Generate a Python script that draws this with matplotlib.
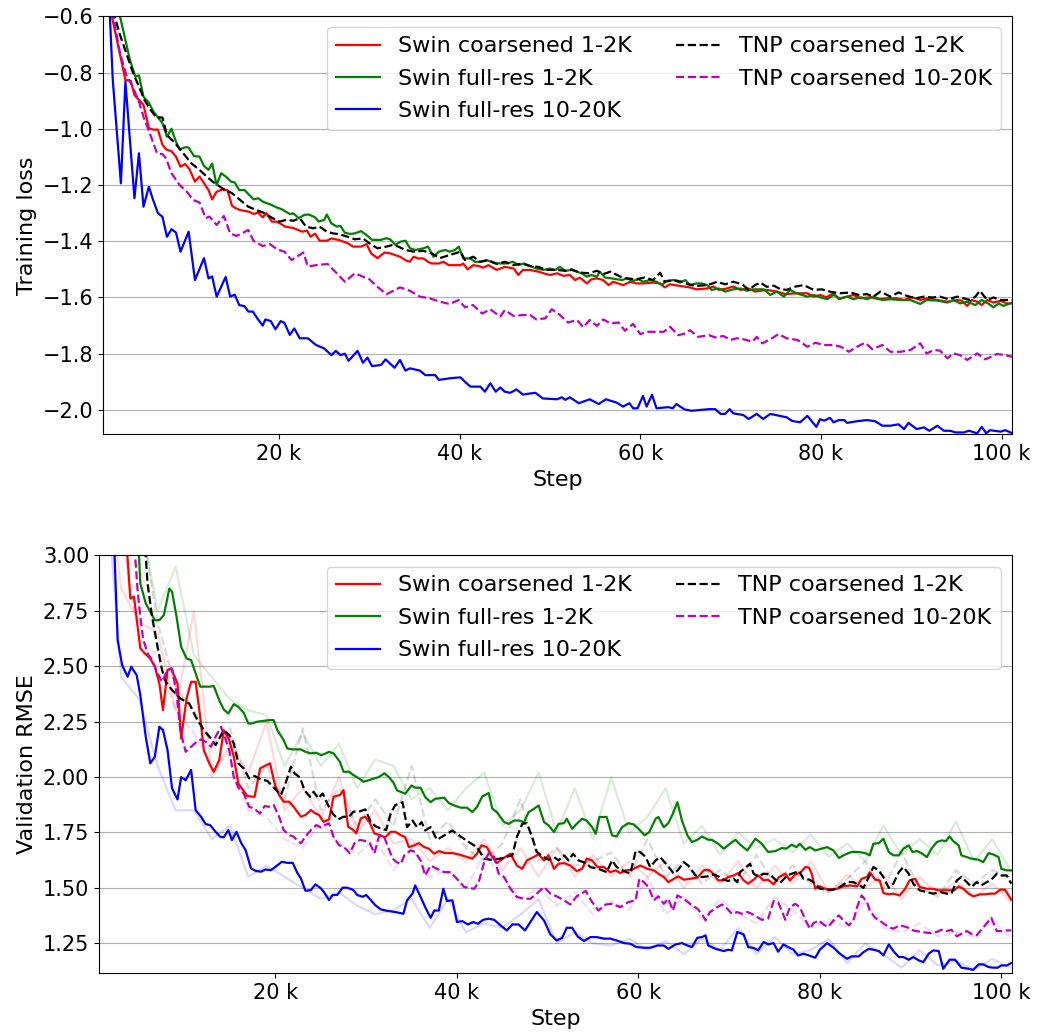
import numpy as np
import matplotlib
matplotlib.use("Agg")
from matplotlib import pyplot as plt
from matplotlib.ticker import EngFormatter

# (step in thousands, value)

# ---- training loss ----
train_swin_coarse_small = [(1.0,-0.45),(1.5,-0.60),(3.0,-0.826),(3.6,-0.830),(4.0,-0.880),(4.5,-0.897),(5.0,-0.915),(5.6,-0.998),(6.1,-1.003),(6.6,-1.003),(7.1,-1.057),(7.5,-1.073),(8.1,-1.080),(8.6,-1.099),(9.1,-1.135),(9.6,-1.125),(10.1,-1.144),(10.7,-1.188),(11.2,-1.170),(11.6,-1.188),(12.2,-1.218),(12.6,-1.251),(13.1,-1.224),(13.7,-1.216),(14.3,-1.218),(14.8,-1.274),(15.2,-1.282),(15.7,-1.289),(16.7,-1.295),(17.2,-1.303),(17.7,-1.298),(18.2,-1.315),(18.6,-1.300),(19.2,-1.330),(19.7,-1.330),(20.2,-1.338),(20.7,-1.348),(21.6,-1.353),(22.6,-1.366),(23.1,-1.362),(23.5,-1.384),(24.0,-1.373),(24.5,-1.398),(25.3,-1.398),(25.8,-1.390),(26.7,-1.396),(27.6,-1.407),(28.2,-1.419),(29.1,-1.419),(29.7,-1.410),(30.2,-1.443),(30.9,-1.460),(31.7,-1.440),(32.3,-1.443),(33.4,-1.455),(34.0,-1.467),(34.5,-1.473),(34.9,-1.455),(35.4,-1.461),(36.0,-1.461),(36.5,-1.473),(36.9,-1.479),(37.7,-1.479),(38.2,-1.473),(38.8,-1.485),(40.1,-1.485),(40.4,-1.479),(40.9,-1.500),(41.5,-1.485),(42.1,-1.488),(42.6,-1.494),(43.2,-1.485),(44.1,-1.502),(45.0,-1.491),(46.0,-1.497),(46.5,-1.520),(47.0,-1.502),(47.8,-1.502),(48.7,-1.508),(49.3,-1.514),(50.0,-1.520),(50.8,-1.514),(51.5,-1.523),(52.2,-1.520),(52.8,-1.538),(53.3,-1.529),(54.1,-1.550),(54.6,-1.535),(55.2,-1.532),(55.9,-1.538),(56.5,-1.556),(57.0,-1.544),(58.1,-1.556),(58.9,-1.544),(59.6,-1.550),(60.3,-1.550),(61.5,-1.547),(62.2,-1.550),(62.7,-1.564),(63.3,-1.553),(64.4,-1.559),(65.5,-1.564),(66.2,-1.571),(67.4,-1.568),(68.1,-1.561),(68.7,-1.573),(69.6,-1.568),(70.3,-1.561),(71.1,-1.573),(72.0,-1.568),(72.7,-1.579),(74.0,-1.573),(75.1,-1.579),(76.1,-1.588),(77.3,-1.585),(78.5,-1.585),(79.2,-1.597),(79.9,-1.591),(80.6,-1.599),(81.4,-1.585),(82.0,-1.606),(82.9,-1.597),(83.6,-1.591),(84.4,-1.603),(85.5,-1.599),(86.4,-1.606),(87.3,-1.603),(88.4,-1.603),(89.2,-1.609),(90.1,-1.599),(91.0,-1.609),(91.7,-1.603),(92.9,-1.609),(94.0,-1.615),(95.1,-1.609),(95.6,-1.611),(96.2,-1.630),(96.7,-1.609),(97.3,-1.615),(97.8,-1.627),(98.4,-1.609),(99.1,-1.618),(99.9,-1.612),(100.6,-1.621),(101.2,-1.621)]

train_swin_full_small = [(1.5,-0.45),(2.4,-0.60),(3.5,-0.755),(4.1,-0.814),(4.5,-0.810),(5.0,-0.886),(5.6,-0.907),(6.1,-0.939),(7.1,-0.980),(7.6,-1.028),(8.1,-1.000),(8.6,-1.046),(9.0,-1.073),(9.7,-1.065),(10.0,-1.067),(10.6,-1.097),(11.2,-1.099),(11.7,-1.132),(12.2,-1.146),(12.6,-1.124),(13.1,-1.200),(13.6,-1.158),(14.2,-1.172),(14.7,-1.188),(15.1,-1.191),(15.6,-1.218),(16.2,-1.218),(16.7,-1.235),(17.2,-1.251),(17.7,-1.247),(18.2,-1.259),(19.2,-1.271),(19.7,-1.279),(20.3,-1.286),(21.2,-1.303),(21.6,-1.301),(22.2,-1.318),(22.8,-1.306),(23.3,-1.305),(24.0,-1.315),(24.4,-1.330),(25.0,-1.324),(25.3,-1.305),(25.8,-1.336),(26.4,-1.348),(26.8,-1.345),(27.3,-1.370),(27.9,-1.374),(28.4,-1.372),(29.1,-1.364),(29.7,-1.378),(30.3,-1.395),(31.3,-1.395),(31.9,-1.389),(32.3,-1.393),(32.9,-1.413),(33.4,-1.402),(34.0,-1.398),(34.5,-1.425),(35.1,-1.431),(36.0,-1.425),(36.5,-1.419),(37.1,-1.455),(37.7,-1.437),(38.4,-1.431),(38.9,-1.437),(39.5,-1.431),(39.9,-1.419),(40.4,-1.461),(41.2,-1.461),(41.7,-1.473),(42.3,-1.473),(43.0,-1.467),(43.7,-1.476),(44.5,-1.479),(45.2,-1.479),(45.9,-1.473),(46.5,-1.485),(47.1,-1.479),(47.8,-1.488),(48.5,-1.497),(49.3,-1.502),(50.0,-1.497),(50.6,-1.502),(51.1,-1.491),(51.7,-1.505),(52.4,-1.502),(53.0,-1.508),(53.5,-1.514),(54.1,-1.526),(54.6,-1.520),(55.2,-1.526),(55.5,-1.508),(56.1,-1.529),(56.8,-1.532),(57.4,-1.535),(58.0,-1.538),(58.5,-1.532),(59.2,-1.541),(59.8,-1.535),(60.3,-1.544),(61.1,-1.538),(61.8,-1.544),(62.4,-1.556),(62.9,-1.541),(63.7,-1.538),(64.4,-1.547),(65.0,-1.538),(65.5,-1.556),(66.2,-1.550),(66.8,-1.550),(67.4,-1.556),(67.9,-1.573),(68.7,-1.568),(69.4,-1.579),(70.3,-1.571),(71.1,-1.568),(71.8,-1.576),(72.6,-1.571),(73.7,-1.571),(74.4,-1.591),(75.1,-1.579),(75.9,-1.597),(76.6,-1.573),(77.3,-1.585),(78.5,-1.597),(79.2,-1.591),(79.9,-1.599),(80.7,-1.606),(81.4,-1.591),(82.1,-1.603),(82.9,-1.597),(83.6,-1.606),(84.4,-1.599),(85.1,-1.606),(85.8,-1.597),(86.8,-1.609),(87.7,-1.606),(88.8,-1.609),(89.9,-1.609),(91.0,-1.623),(91.7,-1.609),(92.9,-1.611),(94.0,-1.618),(94.7,-1.609),(95.4,-1.621),(96.2,-1.615),(97.1,-1.627),(97.8,-1.609),(98.6,-1.623),(99.1,-1.635),(99.7,-1.621),(100.2,-1.630),(101.2,-1.618)]

train_swin_full_large = [(1.0,-0.40),(1.6,-0.826),(2.5,-1.194),(3.0,-0.832),(4.0,-1.247),(4.5,-1.087),(5.0,-1.277),(5.6,-1.206),(6.0,-1.247),(6.6,-1.300),(7.1,-1.313),(7.6,-1.384),(8.1,-1.357),(8.6,-1.369),(9.1,-1.437),(10.0,-1.366),(10.7,-1.538),(11.7,-1.460),(12.2,-1.532),(12.6,-1.525),(13.1,-1.597),(14.1,-1.527),(14.6,-1.597),(15.1,-1.590),(15.6,-1.627),(16.2,-1.631),(16.6,-1.650),(17.1,-1.650),(17.6,-1.674),(18.2,-1.700),(18.5,-1.678),(19.1,-1.684),(19.6,-1.713),(20.2,-1.684),(20.6,-1.690),(21.2,-1.733),(21.7,-1.710),(22.3,-1.745),(23.2,-1.745),(24.1,-1.769),(25.0,-1.781),(25.8,-1.805),(26.3,-1.790),(26.8,-1.805),(27.3,-1.800),(27.7,-1.825),(28.7,-1.790),(29.3,-1.832),(29.8,-1.814),(30.3,-1.844),(31.3,-1.840),(31.8,-1.820),(32.8,-1.850),(33.4,-1.822),(34.0,-1.860),(34.5,-1.852),(35.6,-1.860),(36.2,-1.876),(37.3,-1.876),(37.7,-1.893),(39.0,-1.887),(40.1,-1.884),(40.6,-1.900),(41.2,-1.917),(42.3,-1.917),(42.8,-1.935),(43.4,-1.905),(44.0,-1.935),(44.5,-1.920),(45.0,-1.935),(45.6,-1.939),(46.3,-1.927),(47.0,-1.945),(48.4,-1.939),(49.2,-1.959),(50.8,-1.962),(51.3,-1.955),(51.7,-1.964),(52.2,-1.955),(53.2,-1.976),(54.4,-1.962),(55.4,-1.979),(56.2,-1.962),(57.4,-1.974),(58.1,-1.988),(58.8,-1.976),(59.2,-1.994),(59.7,-1.994),(60.3,-1.950),(60.7,-1.988),(61.3,-1.946),(61.8,-1.994),(63.1,-1.990),(63.6,-1.994),(64.0,-1.979),(64.9,-1.998),(65.7,-2.003),(66.6,-2.000),(67.7,-1.997),(68.3,-1.997),(68.9,-2.014),(69.4,-2.014),(69.9,-1.997),(70.3,-2.012),(71.4,-2.018),(72.0,-2.032),(72.9,-2.014),(73.6,-2.032),(74.4,-2.014),(76.2,-2.026),(76.8,-2.039),(77.7,-2.044),(78.5,-2.021),(79.0,-2.041),(79.5,-2.060),(79.9,-2.033),(80.4,-2.038),(81.0,-2.028),(81.4,-2.044),(82.0,-2.036),(82.6,-2.036),(82.9,-2.046),(84.0,-2.040),(85.1,-2.036),(86.0,-2.040),(86.8,-2.056),(87.7,-2.056),(88.6,-2.051),(89.2,-2.068),(89.7,-2.046),(90.6,-2.068),(91.4,-2.062),(92.0,-2.074),(92.9,-2.056),(93.6,-2.074),(94.3,-2.074),(94.9,-2.080),(95.8,-2.080),(96.4,-2.074),(97.3,-2.083),(97.8,-2.060),(98.3,-2.083),(98.7,-2.072),(99.9,-2.077),(100.4,-2.072),(101.2,-2.083)]

train_tnp_coarse_small = [(1.0,-0.50),(1.8,-0.60),(2.4,-0.666),(3.1,-0.731),(3.8,-0.797),(4.5,-0.850),(5.1,-0.897),(5.8,-0.933),(6.4,-0.959),(7.1,-0.960),(7.6,-1.022),(8.5,-1.051),(9.4,-1.087),(10.3,-1.123),(11.2,-1.146),(12.0,-1.170),(12.9,-1.194),(13.9,-1.215),(14.8,-1.229),(15.7,-1.253),(16.6,-1.277),(17.5,-1.289),(18.4,-1.300),(19.3,-1.318),(20.1,-1.330),(20.8,-1.324),(21.6,-1.327),(22.3,-1.318),(23.0,-1.348),(23.8,-1.354),(24.5,-1.348),(25.3,-1.366),(26.0,-1.372),(26.7,-1.375),(27.6,-1.384),(28.4,-1.393),(29.3,-1.390),(30.0,-1.407),(30.9,-1.425),(31.9,-1.419),(32.6,-1.413),(33.2,-1.419),(34.0,-1.431),(34.9,-1.437),(36.0,-1.434),(36.9,-1.443),(37.8,-1.460),(38.9,-1.449),(40.1,-1.437),(40.6,-1.467),(41.5,-1.455),(42.3,-1.473),(43.2,-1.467),(44.1,-1.481),(45.0,-1.473),(46.0,-1.485),(46.9,-1.479),(47.8,-1.488),(48.7,-1.491),(49.6,-1.502),(50.8,-1.502),(51.7,-1.505),(52.4,-1.500),(53.2,-1.511),(54.3,-1.514),(55.2,-1.505),(55.9,-1.517),(56.7,-1.508),(57.8,-1.526),(58.5,-1.532),(59.6,-1.535),(60.5,-1.529),(61.4,-1.538),(62.2,-1.512),(62.7,-1.544),(63.7,-1.538),(64.6,-1.544),(65.3,-1.553),(66.2,-1.559),(67.4,-1.556),(68.0,-1.550),(68.5,-1.544),(69.4,-1.553),(70.3,-1.544),(71.3,-1.553),(72.0,-1.573),(72.7,-1.556),(73.3,-1.547),(74.0,-1.562),(74.8,-1.558),(75.5,-1.570),(76.2,-1.573),(77.2,-1.561),(78.1,-1.556),(79.2,-1.573),(80.1,-1.571),(81.0,-1.579),(82.1,-1.585),(83.3,-1.582),(84.2,-1.591),(85.1,-1.588),(85.8,-1.597),(86.6,-1.579),(87.7,-1.597),(88.6,-1.582),(89.5,-1.594),(90.5,-1.603),(91.4,-1.597),(92.3,-1.600),(93.2,-1.597),(94.1,-1.606),(95.1,-1.597),(95.8,-1.603),(96.5,-1.609),(97.1,-1.597),(97.6,-1.576),(98.4,-1.609),(99.1,-1.600),(99.9,-1.609),(101.2,-1.609)]

train_tnp_coarse_large = [(1.0,-0.45),(1.65,-0.60),(2.4,-0.731),(3.1,-0.808),(3.8,-0.850),(4.5,-0.903),(5.0,-0.957),(5.7,-1.016),(6.5,-1.087),(7.1,-1.090),(7.5,-1.105),(8.1,-1.158),(9.0,-1.200),(9.8,-1.224),(10.5,-1.253),(11.2,-1.262),(11.9,-1.318),(12.3,-1.312),(13.1,-1.342),(13.9,-1.310),(14.6,-1.372),(15.3,-1.381),(15.9,-1.372),(16.6,-1.360),(17.2,-1.399),(18.2,-1.417),(19.0,-1.410),(19.8,-1.429),(20.6,-1.437),(21.4,-1.467),(22.7,-1.440),(23.2,-1.490),(24.3,-1.484),(25.4,-1.481),(26.4,-1.514),(27.3,-1.544),(28.4,-1.514),(29.3,-1.526),(30.0,-1.535),(30.9,-1.562),(31.9,-1.588),(32.3,-1.582),(33.4,-1.564),(34.5,-1.576),(35.6,-1.597),(36.7,-1.603),(37.8,-1.615),(38.9,-1.623),(39.9,-1.609),(40.6,-1.635),(41.5,-1.627),(42.5,-1.657),(43.4,-1.642),(44.5,-1.668),(45.0,-1.645),(46.0,-1.666),(47.1,-1.662),(47.8,-1.662),(48.5,-1.678),(49.5,-1.674),(50.2,-1.642),(51.1,-1.662),(52.0,-1.689),(53.0,-1.680),(53.7,-1.706),(54.4,-1.680),(55.2,-1.701),(55.9,-1.678),(56.7,-1.692),(57.6,-1.689),(58.3,-1.718),(59.2,-1.694),(60.0,-1.730),(60.9,-1.722),(61.8,-1.722),(62.6,-1.722),(63.3,-1.704),(64.2,-1.734),(65.0,-1.728),(65.5,-1.716),(66.4,-1.740),(67.6,-1.734),(68.3,-1.742),(69.2,-1.737),(70.0,-1.751),(70.7,-1.745),(71.5,-1.749),(72.4,-1.757),(72.9,-1.740),(73.5,-1.763),(74.4,-1.749),(75.3,-1.730),(76.2,-1.745),(77.4,-1.751),(78.5,-1.775),(79.4,-1.761),(80.3,-1.769),(81.4,-1.769),(82.2,-1.775),(83.1,-1.793),(84.0,-1.775),(84.9,-1.761),(85.7,-1.784),(86.8,-1.769),(87.7,-1.793),(88.8,-1.793),(89.9,-1.787),(91.0,-1.763),(91.7,-1.799),(92.5,-1.787),(93.2,-1.789),(94.0,-1.816),(94.7,-1.799),(95.4,-1.805),(96.2,-1.822),(97.3,-1.799),(98.2,-1.820),(99.5,-1.801),(100.4,-1.805),(101.2,-1.811)]

# ---- validation RMSE, smoothed ----
val_swin_coarse_small = [(3.0,3.40),(4.0,2.806),(4.4,2.814),(5.1,2.581),(5.6,2.558),(6.2,2.535),(6.7,2.498),(7.2,2.423),(7.6,2.302),(8.1,2.483),(8.5,2.490),(9.2,2.423),(9.6,2.174),(10.2,2.355),(10.7,2.430),(11.2,2.430),(11.7,2.272),(12.1,2.122),(12.7,2.062),(13.2,2.024),(13.8,2.077),(14.3,2.212),(14.9,2.167),(15.4,2.092),(15.9,1.971),(16.3,1.949),(16.9,1.914),(17.7,1.911),(18.3,2.039),(18.8,2.050),(19.4,2.062),(19.9,1.971),(20.4,1.919),(20.9,1.889),(21.5,1.889),(22.0,1.866),(22.8,1.821),(23.3,1.829),(23.9,1.851),(24.4,1.836),(24.8,1.829),(25.3,1.798),(25.9,1.809),(26.4,1.911),(27.1,1.919),(27.5,1.941),(28.0,1.776),(28.5,1.764),(28.9,1.746),(29.4,1.814),(29.9,1.821),(30.4,1.794),(30.9,1.746),(31.5,1.738),(32.1,1.728),(32.7,1.753),(33.2,1.753),(33.8,1.738),(34.3,1.729),(34.7,1.684),(35.3,1.692),(35.8,1.702),(36.4,1.684),(36.9,1.677),(37.5,1.654),(38.0,1.666),(38.7,1.657),(39.5,1.657),(40.2,1.651),(40.9,1.642),(41.7,1.632),(42.2,1.654),(42.7,1.692),(43.3,1.684),(43.9,1.639),(44.4,1.612),(45.2,1.636),(45.9,1.654),(46.6,1.601),(47.2,1.586),(47.7,1.624),(48.3,1.636),(49.0,1.651),(49.6,1.624),(50.1,1.647),(50.7,1.586),(51.2,1.609),(51.8,1.612),(52.5,1.601),(53.2,1.576),(53.8,1.586),(54.3,1.632),(54.9,1.624),(55.5,1.594),(56.2,1.594),(56.9,1.571),(57.5,1.579),(58.0,1.567),(58.6,1.579),(59.3,1.582),(60.2,1.601),(61.0,1.586),(61.7,1.579),(62.2,1.564),(62.8,1.549),(63.3,1.526),(63.9,1.541),(64.4,1.552),(65.0,1.537),(65.7,1.541),(66.5,1.546),(67.2,1.579),(67.7,1.582),(68.1,1.571),(68.8,1.534),(69.4,1.534),(69.9,1.549),(70.5,1.556),(71.0,1.567),(71.6,1.534),(72.1,1.519),(72.7,1.537),(73.2,1.556),(73.8,1.534),(74.3,1.537),(74.9,1.516),(75.5,1.549),(76.2,1.564),(76.7,1.534),(77.3,1.561),(77.8,1.567),(78.4,1.594),(78.8,1.591),(79.1,1.564),(79.5,1.496),(80.0,1.507),(80.6,1.496),(81.1,1.492),(81.9,1.496),(82.6,1.507),(83.3,1.511),(84.1,1.507),(84.6,1.541),(85.2,1.549),(85.5,1.571),(86.1,1.537),(86.6,1.534),(87.0,1.477),(87.6,1.471),(88.1,1.474),(88.8,1.466),(89.4,1.496),(89.9,1.534),(90.5,1.541),(91.0,1.504),(91.8,1.496),(92.5,1.496),(93.1,1.489),(93.7,1.489),(94.2,1.489),(94.8,1.489),(95.3,1.507),(95.8,1.496),(96.4,1.474),(96.9,1.462),(97.7,1.471),(98.2,1.471),(98.8,1.474),(99.3,1.474),(99.9,1.492),(100.4,1.492),(101.1,1.447)]

val_swin_full_small = [(4.5,3.40),(5.1,2.874),(5.7,2.784),(6.2,2.746),(6.7,2.708),(7.2,2.708),(7.7,2.731),(8.3,2.851),(8.6,2.836),(9.1,2.723),(9.6,2.588),(10.2,2.535),(10.7,2.528),(11.2,2.468),(11.7,2.408),(12.2,2.408),(12.7,2.408),(13.2,2.411),(13.8,2.347),(14.3,2.305),(14.8,2.287),(15.4,2.329),(15.9,2.317),(16.5,2.290),(17.0,2.242),(17.4,2.242),(18.0,2.250),(18.7,2.254),(19.3,2.257),(19.8,2.257),(20.2,2.212),(20.9,2.167),(21.3,2.129),(21.9,2.125),(22.8,2.125),(23.3,2.114),(23.9,2.107),(24.5,2.110),(25.0,2.099),(25.4,2.104),(25.9,2.114),(26.4,2.107),(27.1,2.069),(27.5,2.024),(28.1,2.024),(28.6,2.009),(29.2,1.994),(29.7,1.979),(30.3,1.986),(30.9,1.994),(31.4,2.000),(32.0,2.017),(32.5,2.000),(33.0,1.975),(33.4,1.940),(34.3,1.925),(35.0,1.962),(35.4,1.952),(36.0,1.952),(36.5,1.910),(37.1,1.887),(37.6,1.902),(38.6,1.907),(39.1,1.883),(39.7,1.872),(40.4,1.862),(41.1,1.862),(41.7,1.842),(42.2,1.865),(42.8,1.913),(43.5,1.928),(43.9,1.857),(44.4,1.842),(45.2,1.797),(45.7,1.789),(46.3,1.804),(46.8,1.804),(47.4,1.797),(47.9,1.842),(48.5,1.857),(49.0,1.872),(49.6,1.797),(50.1,1.782),(50.7,1.752),(51.2,1.789),(51.8,1.792),(52.1,1.812),(52.7,1.767),(53.2,1.789),(53.8,1.812),(54.3,1.804),(54.9,1.774),(55.3,1.744),(55.7,1.820),(56.5,1.820),(57.1,1.737),(57.6,1.732),(58.2,1.774),(58.9,1.792),(59.5,1.786),(60.0,1.767),(60.7,1.737),(61.2,1.752),(61.9,1.812),(62.2,1.820),(62.8,1.774),(63.3,1.792),(63.8,1.835),(64.3,1.887),(64.8,1.804),(65.4,1.737),(65.9,1.707),(66.5,1.717),(67.0,1.732),(67.7,1.717),(68.1,1.717),(68.8,1.699),(69.4,1.677),(70.1,1.699),(70.7,1.717),(71.2,1.696),(72.0,1.669),(72.9,1.722),(73.6,1.699),(74.3,1.662),(75.1,1.666),(75.8,1.680),(76.3,1.677),(76.9,1.695),(77.4,1.684),(77.8,1.699),(78.4,1.672),(78.9,1.684),(79.5,1.669),(80.2,1.677),(80.8,1.684),(81.5,1.669),(82.1,1.635),(82.8,1.651),(83.5,1.662),(84.3,1.662),(85.0,1.657),(85.5,1.647),(85.9,1.699),(86.5,1.702),(87.0,1.722),(87.6,1.662),(88.1,1.647),(88.7,1.647),(89.2,1.677),(89.8,1.692),(90.2,1.662),(90.7,1.666),(91.2,1.657),(91.8,1.639),(92.3,1.677),(92.9,1.707),(93.4,1.714),(93.9,1.711),(94.3,1.732),(94.7,1.711),(95.3,1.692),(95.6,1.647),(96.2,1.639),(96.7,1.632),(97.5,1.627),(98.0,1.616),(98.6,1.657),(99.1,1.651),(99.7,1.639),(100.0,1.586),(100.6,1.579),(101.1,1.579)]

val_swin_full_large = [(2.0,3.30),(2.6,2.618),(3.1,2.505),(3.7,2.453),(4.1,2.498),(4.7,2.460),(5.1,2.370),(5.7,2.182),(6.2,2.062),(6.7,2.092),(7.2,2.227),(7.6,2.212),(8.1,2.122),(8.6,1.949),(9.2,1.899),(9.6,2.000),(10.1,1.986),(10.7,2.032),(11.2,1.851),(11.8,1.821),(12.3,1.788),(12.8,1.783),(13.4,1.753),(13.9,1.731),(14.3,1.728),(14.8,1.761),(15.2,1.716),(15.7,1.753),(16.2,1.704),(16.7,1.671),(17.3,1.588),(17.8,1.577),(18.4,1.573),(18.9,1.583),(19.5,1.580),(20.0,1.595),(20.7,1.618),(21.3,1.613),(21.9,1.613),(22.4,1.568),(22.8,1.543),(23.3,1.487),(23.9,1.490),(24.4,1.516),(25.0,1.498),(25.4,1.478),(25.9,1.445),(26.3,1.468),(26.8,1.468),(27.4,1.501),(27.9,1.501),(28.6,1.490),(29.0,1.468),(29.6,1.460),(30.0,1.468),(30.5,1.445),(31.0,1.422),(31.6,1.403),(32.3,1.397),(33.0,1.392),(33.6,1.388),(34.1,1.383),(34.5,1.444),(35.1,1.474),(35.4,1.511),(36.0,1.459),(36.5,1.413),(37.1,1.365),(37.5,1.398),(38.0,1.398),(38.5,1.496),(38.9,1.441),(39.5,1.444),(40.0,1.346),(40.6,1.350),(41.2,1.335),(41.8,1.346),(42.3,1.338),(42.9,1.356),(43.5,1.361),(44.1,1.356),(44.8,1.331),(45.5,1.308),(46.1,1.335),(46.8,1.335),(47.5,1.308),(48.1,1.346),(48.8,1.391),(49.6,1.353),(50.3,1.290),(51.0,1.263),(51.6,1.275),(52.1,1.320),(52.7,1.320),(53.3,1.281),(54.0,1.260),(54.7,1.278),(55.4,1.278),(56.2,1.271),(56.9,1.271),(57.6,1.263),(58.4,1.251),(59.1,1.248),(59.8,1.233),(60.6,1.230),(61.3,1.230),(62.1,1.240),(62.8,1.240),(63.3,1.225),(64.1,1.245),(64.8,1.251),(65.4,1.240),(65.9,1.233),(66.5,1.275),(67.0,1.278),(67.4,1.286),(67.7,1.240),(68.5,1.225),(69.4,1.215),(69.9,1.221),(70.3,1.218),(70.9,1.301),(71.6,1.290),(72.1,1.233),(72.7,1.229),(73.2,1.218),(73.8,1.256),(74.3,1.245),(74.9,1.251),(75.4,1.212),(76.0,1.245),(76.5,1.233),(77.1,1.221),(77.6,1.195),(78.2,1.203),(78.8,1.195),(79.5,1.185),(80.0,1.221),(80.8,1.251),(81.5,1.230),(82.2,1.203),(83.0,1.180),(83.5,1.191),(84.3,1.191),(84.8,1.210),(85.4,1.225),(85.9,1.221),(86.5,1.215),(87.0,1.195),(87.6,1.245),(88.1,1.215),(88.7,1.188),(89.2,1.188),(89.8,1.176),(90.3,1.188),(90.9,1.173),(91.4,1.165),(92.0,1.203),(92.5,1.218),(93.1,1.215),(93.6,1.135),(94.3,1.176),(94.9,1.176),(95.6,1.140),(96.4,1.135),(96.9,1.130),(97.5,1.155),(98.0,1.155),(98.6,1.143),(99.1,1.140),(99.6,1.140),(100.0,1.150),(100.6,1.150),(101.1,1.161)]

val_tnp_coarse_small = [(5.0,3.40),(5.9,2.874),(6.4,2.723),(7.0,2.588),(7.5,2.483),(7.9,2.430),(8.6,2.393),(9.5,2.355),(10.5,2.332),(11.2,2.272),(12.1,2.212),(12.9,2.174),(13.4,2.144),(14.0,2.190),(14.3,2.212),(14.9,2.190),(15.4,2.152),(15.9,2.062),(16.5,2.039),(17.1,1.994),(17.7,2.005),(18.4,1.989),(19.1,1.983),(19.8,1.953),(20.6,1.919),(21.1,1.971),(21.7,2.047),(22.1,2.017),(22.7,1.998),(23.2,1.941),(23.8,1.911),(24.2,1.934),(24.7,1.904),(25.2,1.926),(25.7,1.881),(26.3,1.836),(26.9,1.809),(27.5,1.821),(28.1,1.821),(28.6,1.844),(29.2,1.844),(29.9,1.854),(30.5,1.798),(31.0,1.779),(31.6,1.768),(32.2,1.761),(32.7,1.836),(33.2,1.874),(33.7,1.881),(34.0,1.887),(34.5,1.774),(35.1,1.804),(35.6,1.774),(36.1,1.797),(36.5,1.759),(37.1,1.774),(37.8,1.717),(38.6,1.737),(39.5,1.759),(40.4,1.732),(41.3,1.707),(42.2,1.684),(43.0,1.632),(43.7,1.627),(44.8,1.632),(46.1,1.647),(46.6,1.729),(47.2,1.789),(47.7,1.792),(48.3,1.729),(48.8,1.662),(49.6,1.639),(50.1,1.627),(50.7,1.639),(51.2,1.624),(51.8,1.647),(52.3,1.624),(52.8,1.654),(53.4,1.624),(54.2,1.612),(54.7,1.594),(55.6,1.586),(56.5,1.571),(57.1,1.624),(57.6,1.594),(58.4,1.576),(59.1,1.564),(59.7,1.666),(60.2,1.662),(60.8,1.639),(61.3,1.594),(61.9,1.624),(62.4,1.639),(63.2,1.601),(63.9,1.564),(64.4,1.582),(65.0,1.616),(65.5,1.601),(66.3,1.556),(67.0,1.549),(67.6,1.552),(68.3,1.561),(68.8,1.552),(69.4,1.537),(69.9,1.531),(70.5,1.541),(70.9,1.526),(71.2,1.571),(71.8,1.591),(72.3,1.609),(72.7,1.564),(73.2,1.552),(73.8,1.564),(74.5,1.561),(75.1,1.537),(75.6,1.522),(76.4,1.556),(77.1,1.567),(77.7,1.576),(78.2,1.541),(78.9,1.537),(79.5,1.519),(80.0,1.496),(80.8,1.492),(81.5,1.492),(82.2,1.504),(83.0,1.526),(83.7,1.526),(84.4,1.511),(84.8,1.500),(85.4,1.549),(85.9,1.594),(86.5,1.579),(87.0,1.549),(87.6,1.500),(88.1,1.519),(88.7,1.571),(89.2,1.594),(89.8,1.564),(90.3,1.519),(91.0,1.489),(91.8,1.481),(92.5,1.474),(93.3,1.481),(94.0,1.474),(94.5,1.474),(95.1,1.534),(95.6,1.549),(96.2,1.526),(96.7,1.504),(97.3,1.526),(97.8,1.511),(98.4,1.526),(98.9,1.537),(99.5,1.564),(100.0,1.556),(100.6,1.556),(101.1,1.519)]

val_tnp_coarse_large = [(4.0,3.30),(4.8,2.844),(5.1,2.723),(5.4,2.626),(5.9,2.558),(6.4,2.528),(7.0,2.468),(7.5,2.430),(8.1,2.483),(8.6,2.490),(9.1,2.378),(9.5,2.212),(10.1,2.114),(10.7,2.137),(11.2,2.155),(11.8,2.170),(12.3,2.159),(12.9,2.137),(13.4,2.182),(14.0,2.227),(14.4,2.182),(14.9,2.122),(15.4,2.000),(15.9,1.953),(16.5,1.926),(17.1,1.866),(17.6,1.859),(18.3,1.836),(18.8,1.869),(19.3,1.866),(19.8,1.874),(20.4,1.821),(20.9,1.761),(21.5,1.738),(22.0,1.731),(22.8,1.701),(23.3,1.731),(23.9,1.761),(24.5,1.783),(25.0,1.773),(25.4,1.783),(25.9,1.791),(26.4,1.731),(27.0,1.693),(27.5,1.686),(28.2,1.656),(28.7,1.701),(29.3,1.716),(29.8,1.713),(30.4,1.701),(30.9,1.656),(31.4,1.731),(31.9,1.738),(32.4,1.686),(32.9,1.633),(33.3,1.618),(33.8,1.607),(34.2,1.647),(34.9,1.669),(35.4,1.662),(36.0,1.624),(36.5,1.556),(37.1,1.601),(37.8,1.586),(38.6,1.571),(39.3,1.571),(40.0,1.541),(40.8,1.504),(41.9,1.496),(42.4,1.526),(43.0,1.616),(43.5,1.657),(44.1,1.639),(44.6,1.564),(45.2,1.549),(45.9,1.496),(46.6,1.459),(47.4,1.451),(48.1,1.451),(48.8,1.474),(49.6,1.504),(50.3,1.474),(51.0,1.462),(51.8,1.444),(52.5,1.425),(53.2,1.462),(54.2,1.486),(54.9,1.436),(55.6,1.398),(56.4,1.425),(57.1,1.428),(58.0,1.413),(58.9,1.436),(59.7,1.444),(60.1,1.541),(60.6,1.526),(61.1,1.504),(61.7,1.444),(62.2,1.462),(62.8,1.428),(63.3,1.451),(63.8,1.398),(64.3,1.466),(65.0,1.451),(65.7,1.428),(66.5,1.406),(67.0,1.383),(67.4,1.353),(67.9,1.391),(68.7,1.413),(69.2,1.425),(69.8,1.406),(70.3,1.383),(70.9,1.391),(71.4,1.383),(72.0,1.391),(72.5,1.383),(73.1,1.368),(73.6,1.356),(74.3,1.361),(74.9,1.441),(75.4,1.436),(76.2,1.356),(76.7,1.413),(77.3,1.428),(77.8,1.413),(78.4,1.356),(78.9,1.316),(79.3,1.341),(79.9,1.353),(80.4,1.335),(80.9,1.323),(81.5,1.353),(82.1,1.376),(82.6,1.353),(83.2,1.331),(83.7,1.353),(84.1,1.413),(84.6,1.466),(85.2,1.436),(85.5,1.398),(86.1,1.365),(86.8,1.346),(87.6,1.323),(88.1,1.316),(88.8,1.331),(89.6,1.323),(90.3,1.308),(91.2,1.301),(92.2,1.296),(92.9,1.301),(93.4,1.311),(94.0,1.305),(94.5,1.311),(95.1,1.281),(95.6,1.293),(96.2,1.305),(96.7,1.293),(97.3,1.286),(97.8,1.311),(98.4,1.341),(98.9,1.365),(99.5,1.305),(100.0,1.305),(100.6,1.308),(101.1,1.308)]

# ---- validation RMSE, raw (faint) every 2k steps ----
raw_steps = list(range(1, 102, 2))
raw_swin_coarse_small = [3.5,2.85,2.70,2.65,2.30,2.75,2.00,2.15,2.02,2.25,1.85,1.95,1.82,2.00,1.75,1.85,1.70,1.72,1.62,1.68,1.62,1.72,1.58,1.68,1.55,1.68,1.55,1.65,1.55,1.62,1.55,1.62,1.50,1.60,1.52,1.62,1.50,1.60,1.52,1.62,1.48,1.56,1.50,1.56,1.45,1.55,1.47,1.53,1.46,1.52,1.44]
raw_swin_full_small = [3.6,3.4,3.2,2.75,2.95,2.55,2.45,2.35,2.30,2.28,2.05,2.20,2.05,2.15,1.95,2.08,2.05,1.90,1.95,1.85,1.95,2.02,1.78,1.85,2.02,1.75,1.95,1.72,2.00,1.75,1.82,1.95,1.70,1.78,1.65,1.75,1.68,1.72,1.66,1.74,1.64,1.70,1.62,1.78,1.65,1.72,1.65,1.80,1.62,1.72,1.58]
raw_swin_full_large = [3.5,2.45,2.35,2.05,1.85,1.85,1.72,1.78,1.55,1.60,1.55,1.50,1.45,1.48,1.42,1.38,1.40,1.45,1.32,1.45,1.30,1.34,1.32,1.38,1.45,1.25,1.30,1.25,1.24,1.27,1.22,1.26,1.20,1.27,1.22,1.32,1.20,1.28,1.20,1.22,1.27,1.16,1.25,1.20,1.14,1.22,1.15,1.17,1.13,1.18,1.14]
raw_tnp_coarse_small = [3.6,3.4,3.2,2.70,2.40,2.30,2.15,2.22,1.95,2.05,1.90,2.22,1.85,1.95,1.78,1.90,1.78,2.05,1.72,1.80,1.68,1.62,1.70,1.90,1.62,1.68,1.60,1.62,1.66,1.55,1.72,1.55,1.62,1.52,1.58,1.52,1.65,1.52,1.60,1.52,1.48,1.54,1.62,1.50,1.66,1.50,1.46,1.58,1.52,1.58,1.55]
raw_tnp_coarse_large = [3.5,3.10,2.62,2.55,2.30,2.20,2.05,2.10,1.85,1.82,1.72,1.68,1.80,1.70,1.65,1.72,1.58,1.68,1.55,1.58,1.50,1.65,1.55,1.45,1.50,1.42,1.48,1.38,1.44,1.40,1.55,1.38,1.46,1.36,1.45,1.38,1.34,1.46,1.40,1.32,1.36,1.32,1.44,1.32,1.30,1.34,1.28,1.30,1.28,1.35,1.28]

labels = ["Swin coarsened 1-2K", "Swin full-res 1-2K", "Swin full-res 10-20K",
          "TNP coarsened 1-2K", "TNP coarsened 10-20K"]
colors = ["r", "g", "b", "k", "m"]
styles = ["-", "-", "-", "--", "--"]

train_series = [train_swin_coarse_small, train_swin_full_small, train_swin_full_large,
                train_tnp_coarse_small, train_tnp_coarse_large]
val_series = [val_swin_coarse_small, val_swin_full_small, val_swin_full_large,
              val_tnp_coarse_small, val_tnp_coarse_large]
raw_series = [raw_swin_coarse_small, raw_swin_full_small, raw_swin_full_large,
              raw_tnp_coarse_small, raw_tnp_coarse_large]


def unpack(pairs):
    k, v = zip(*pairs)
    return np.array(k) * 1000, np.array(v)


fig = plt.figure(figsize=(10.38, 10.34), dpi=100)
ax1 = fig.add_axes([0.0995, 0.5800, 0.8754, 0.4042])
ax2 = fig.add_axes([0.0954, 0.0587, 0.8793, 0.4041])

for data, c, ls, lab in zip(train_series, colors, styles, labels):
    x, y = unpack(data)
    ax1.plot(x, y, color=c, ls=ls, lw=1.6, label=lab)

raw_x = np.array(raw_steps) * 1000
for raw, c, ls in zip(raw_series, colors, styles):
    ax2.plot(raw_x, raw, color=c, ls=ls, lw=1.6, alpha=0.15)
for data, c, ls, lab in zip(val_series, colors, styles, labels):
    x, y = unpack(data)
    ax2.plot(x, y, color=c, ls=ls, lw=1.6, label=lab)

ax1.set_ylim(-2.0865, -0.6)
ax2.set_ylim(1.1146, 3.0)
ax1.set_ylabel("Training loss", fontsize=16)
ax2.set_ylabel("Validation RMSE", fontsize=16)

for ax in (ax1, ax2):
    ax.set_xlim(550, 101150)
    ax.xaxis.set_major_formatter(EngFormatter())
    ax.set_xlabel("Step", fontsize=16)
    ax.tick_params(labelsize=15)
    ax.grid(axis="y")
    ax.legend(ncol=2, loc="upper right", fontsize=16, labelspacing=0.56)

fig.savefig("out.png", dpi=100)
